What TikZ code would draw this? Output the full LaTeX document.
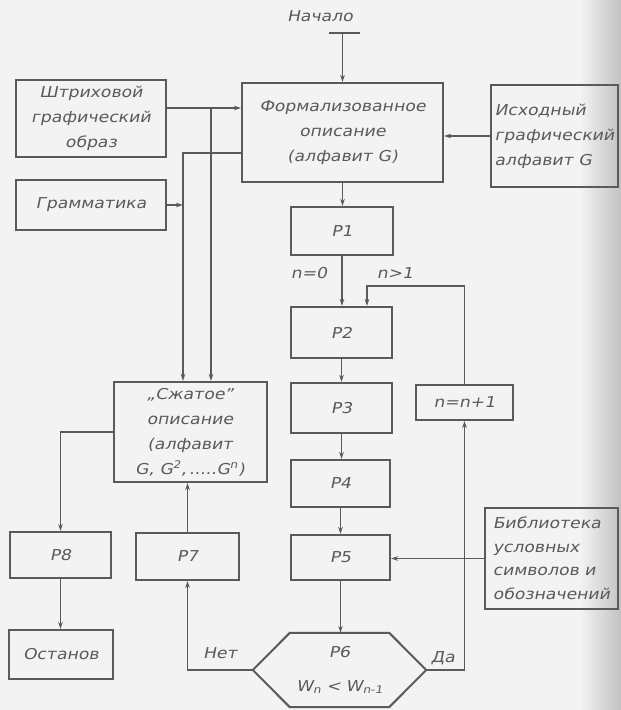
\documentclass[tikz,border=0pt]{standalone}
\usepackage{fontspec}
\newfontfamily\gost{DejaVu Sans}[FakeSlant=0.2,FakeStretch=1.15]
\usetikzlibrary{arrows.meta,calc}
\definecolor{ink}{HTML}{5A5A5A}
\definecolor{paper}{HTML}{F3F3F3}
\definecolor{edge}{HTML}{C2C2C2}
\begin{document}
\begin{tikzpicture}[x=1pt,y=-1pt,
  every node/.style={font=\gost\fontsize{15}{25}\selectfont, text=ink, inner sep=0pt},
  box/.style={draw=ink, line width=2pt, align=center},
  conn/.style={draw=ink, line width=1.1pt},
  arr/.style={conn, -{Stealth[length=7pt,width=4.5pt]}},
]
\fill[paper] (0,0) rectangle (621,710);
\shade[left color=paper,right color=edge] (580,0) rectangle (621,710);
\useasboundingbox (0,0) rectangle (621,710);

% boxes
\node[box, minimum width=201pt, minimum height=99pt] (form) at (342.5,132.5) {Формализованное\\описание\\(алфавит G)};
\node[box, minimum width=150pt, minimum height=77pt] (strih) at (91,118.5) {Штриховой\\графический\\образ};
\node[box, align=left, minimum width=127pt, minimum height=102pt] (ishod) at (554.5,136) {Исходный\\графический\\алфавит G};
\node[box, minimum width=150pt, minimum height=50pt] (gram) at (91,205) {Грамматика};
\node[box, minimum width=102pt, minimum height=48pt] (p1) at (342,231) {P1};
\node[box, minimum width=101pt, minimum height=51pt] (p2) at (341.5,332.5) {P2};
\node[box, minimum width=101pt, minimum height=50pt] (p3) at (341.5,408) {P3};
\node[box, minimum width=99pt, minimum height=47pt] (p4) at (340.5,483.5) {P4};
\node[box, minimum width=99pt, minimum height=45pt] (p5) at (340.5,557.5) {P5};
\node[box, minimum width=97pt, minimum height=35pt] (nn) at (464.5,402.5) {n=n+1};
\node[box, minimum width=153pt, minimum height=100pt] (szh) at (190,432) {„Сжатое”\\описание\\(алфавит\\G, G\textsuperscript{2},\,.....G\textsuperscript{n})};
\node[box, minimum width=103pt, minimum height=47pt] (p7) at (187.5,556.5) {P7};
\node[box, minimum width=101pt, minimum height=46pt] (p8) at (60.5,555) {P8};
\node[box, minimum width=104pt, minimum height=49pt] (ost) at (61,654.5) {Останов};
\node[box, align=left, font=\gost\fontsize{15}{23.5}\selectfont, minimum width=133pt, minimum height=101pt] (bibl) at (551.5,558.5) {Библиотека\\условных\\символов и\\обозначений};
\node[align=center, font=\gost\fontsize{15}{34}\selectfont, minimum width=173pt, minimum height=74pt] (p6) at (339.5,670) {P6\\W\textsubscript{n}\,\,<\,\,W\textsubscript{n-1}};
\draw[box] (p6.west) -- ([xshift=37pt]p6.north west) -- ([xshift=-37pt]p6.north east) -- (p6.east)
  -- ([xshift=-37pt]p6.south east) -- ([xshift=37pt]p6.south west) -- cycle;

% start
\node (start) at (320,16) {Начало};
\coordinate (bar) at (342.5,33);
\draw[conn, line width=1.6pt] ([xshift=-13.5pt]bar) -- ([xshift=17.5pt]bar);
\draw[arr] (bar) -- (bar |- form.north);

% left inputs
\coordinate (j1) at (211,108);
\coordinate (j2) at (183,153);
\draw[arr] (strih.east |- j1) -- (form.west |- j1);
\draw[arr] (j1) -- (j1 |- szh.north);
\draw[arr] (form.west |- j2) -- (j2) -- (j2 |- szh.north);
\draw[arr] (gram.east) -- (gram.east -| j2);
\draw[arr] (ishod.west |- 0,136) -- (form.east |- 0,136);

% main chain
\draw[arr] (form.south) -- (form.south |- p1.north);
\draw[arr] (p1.south) -- (p1.south |- p2.north);
\node (n0) at (309,273) {n=0};
\node (n1) at (395,273) {n>1};
\coordinate (lc) at (367,286);
\draw[arr] (nn.north) |- (lc) -- (lc |- p2.north);
\draw[arr] (p2.south) -- (p2.south |- p3.north);
\draw[arr] (p3.south) -- (p3.south |- p4.north);
\draw[arr] (p4.south) -- (p4.south |- p5.north);
\draw[arr] (p5.south) -- (p5.south |- p6.north);
\draw[arr] (bibl.west) -- (bibl.west -| p5.east);

% decision branches
\draw[arr] (p6.west) -| (p7.south);
\draw[arr] (p6.east) -| (nn.south);
\node (net) at (220,653) {Нет};
\node (da) at (443,658) {Да};

% compressed description
\draw[arr] (p7.north) -- (p7.north |- szh.south);
\draw[arr] (szh.west) -| (p8.north);
\draw[arr] (p8.south) -- (p8.south |- ost.north);
\end{tikzpicture}
\end{document}
